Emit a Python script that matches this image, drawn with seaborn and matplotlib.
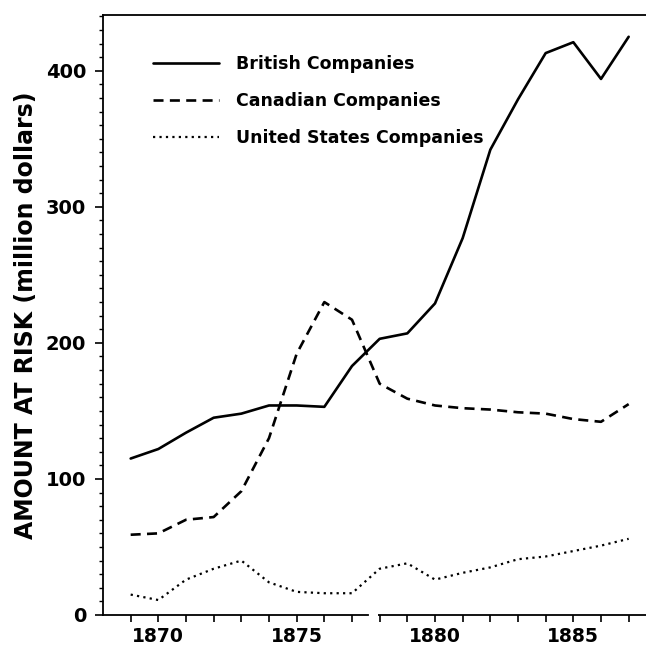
import seaborn as sns
import matplotlib.pyplot as plt
import pandas as pd
import numpy as np
from matplotlib.ticker import MultipleLocator

years = list(range(1869, 1888))
british = [115, 122, 134, 145, 148, 154, 154, 153, 183, 203, 207, 229, 277, 342, 379, 413, 421, 394, 425]
canadian = [59, 60, 70, 72, 91, 130, 192, 230, 217, 170, 159, 154, 152, 151, 149, 148, 144, 142, 155]
american = [15, 11, 26, 34, 40, 24, 17, 16, 16, 34, 38, 26, 31, 35, 41, 43, 47, 51, 56]

sns.set_style('ticks')
plt.rcParams['font.family'] = ['DejaVu Sans']
plt.rcParams['font.weight'] = 'bold'
plt.rcParams['text.color'] = 'black'
plt.rcParams['xtick.color'] = 'black'
plt.rcParams['ytick.color'] = 'black'
plt.rcParams['axes.labelcolor'] = 'black'

df = pd.DataFrame({'year': years, 'British Companies': british,
                   'Canadian Companies': canadian,
                   'United States Companies': american})

fig = plt.figure(figsize=(6.46, 6.46), dpi=100)
ax = fig.add_axes([103/646, 31/646, 581/646, 600/646])

sns.lineplot(data=df, x='year', y='British Companies', ax=ax,
             color='black', lw=1.9, label='British Companies')
sns.lineplot(data=df, x='year', y='Canadian Companies', ax=ax,
             color='black', lw=1.9, label='Canadian Companies')
sns.lineplot(data=df, x='year', y='United States Companies', ax=ax,
             color='black', lw=1.6, label='United States Companies')
ax.lines[1].set_dashes([3.8, 2.4])
ax.lines[2].set_dashes([1, 1.9])

ax.set_xlim(1868, 1889)
ax.set_ylim(0, 441)

ax.set_xticks(years)
ax.set_xticklabels([str(y) if y % 5 == 0 else '' for y in years])
ax.yaxis.set_major_locator(MultipleLocator(100))
ax.yaxis.set_minor_locator(MultipleLocator(10))
ax.tick_params(axis='x', which='major', direction='out', length=5, width=1.2,
               labelsize=13.5, pad=4)
ax.tick_params(axis='y', which='major', direction='out', length=6, width=1.2,
               labelsize=14, pad=6)
ax.tick_params(axis='y', which='minor', direction='out', length=3, width=1)

for s in ['left', 'top', 'bottom']:
    ax.spines[s].set_color('black')
    ax.spines[s].set_linewidth(1.3)
ax.spines['right'].set_visible(False)
# break in the bottom axis
ax.spines['bottom'].set_bounds(1868, 1877.57)
ax.hlines(0, 1877.93, 1889, color='black', lw=1.3, clip_on=False)

ax.set_xlabel('')
ax.set_ylabel('AMOUNT AT RISK (million dollars)', fontsize=17, fontweight='bold', labelpad=6)

leg = ax.legend(loc='upper left', bbox_to_anchor=(0.06, 0.96), frameon=False,
                fontsize=12.5, handlelength=3.8, handletextpad=0.95, labelspacing=1.1)
for t in leg.get_texts():
    t.set_fontweight('bold')
    t.set_color('black')

fig.savefig('out.png', dpi=100)
